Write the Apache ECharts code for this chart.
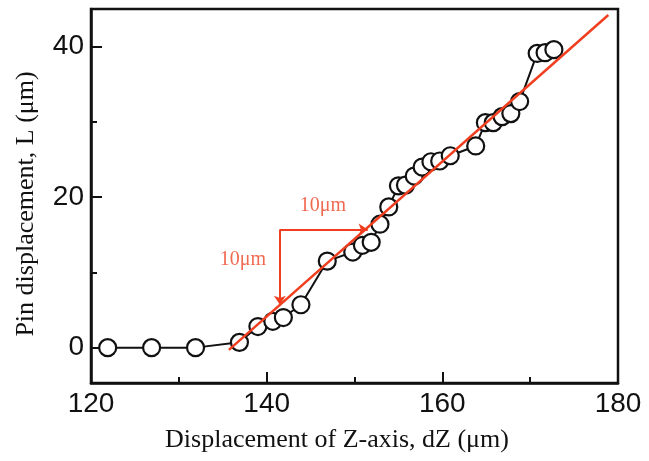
<!DOCTYPE html>
<html>
<head>
<meta charset="utf-8">
<script src="https://cdn.jsdelivr.net/npm/echarts@6/dist/echarts.min.js"></script>
<style>
  html, body { margin: 0; padding: 0; background: #fff; }
  #chart { width: 649px; height: 461px; }
</style>
</head>
<body>
<div id="chart"></div>
<script>
// Measured points: Z-axis displacement (µm) vs pin displacement (µm)
const dz  = [121.9, 126.9, 131.9, 136.9, 139.0, 140.7, 141.9, 143.9, 146.9, 149.8,
             150.9, 151.9, 152.9, 153.9, 155.0, 155.8, 156.8, 157.7, 158.7, 159.7,
             160.9, 163.8, 164.9, 165.8, 166.8, 167.8, 168.8, 170.8, 171.7, 172.7];
const pin = [0, 0, 0, 0.7, 2.8, 3.5, 4.0, 5.7, 11.5, 12.7,
             13.6, 14.0, 16.4, 18.7, 21.5, 21.6, 22.8, 24.0, 24.7, 24.8,
             25.5, 26.8, 29.9, 29.9, 30.7, 31.1, 32.7, 39.1, 39.2, 39.6];

// Linear fit (slope ≈ 1)
const fitX = [135.7, 178.9];
const fitY = [-0.3, 44.2];

// Slope triangle: 10 µm right, 10 µm down from the corner
const cornerX = 141.5, cornerY = 15.7;
const stepX = 10, stepY = 10;

// Annotation texts
const annoX = [146.4, 137.3];
const annoY = [18.8, 11.7];
const annoText = ['10μm', '10μm'];

// Axis ticks
const xMajor = [120, 140, 160, 180];
const yMajor = [0, 20, 40];
const yMinor = [10, 30];

const RED = '#f03e1f';
const RED_TEXT = '#ec4426';

const chart = echarts.init(document.getElementById('chart'), null, { renderer: 'canvas' });

const points = dz.map((x, i) => [x, pin[i]]);
const fit = fitX.map((x, i) => [x, fitY[i]]);
const anno = annoX.map((x, i) => ({ value: [x, annoY[i]], name: annoText[i] }));

const tickLabel = { fontFamily: 'Liberation Sans, Arial, sans-serif', fontSize: 28, color: '#111' };
const titleFont = { fontFamily: 'Liberation Serif, Times New Roman, serif', fontSize: 26, color: '#111' };

chart.setOption({
  animation: false,
  backgroundColor: '#fff',
  grid: {
    left: 91, right: 31, top: 9, bottom: 78,
    show: true, borderColor: '#111', borderWidth: 2.5, backgroundColor: 'transparent'
  },
  xAxis: {
    type: 'value', min: 120, max: 180, interval: 20,
    name: 'Displacement of Z-axis, dZ (μm)',
    nameLocation: 'middle', nameGap: 44,
    nameTextStyle: Object.assign({ padding: [0, 35, 0, 0] }, titleFont),
    axisLine: { show: true, onZero: false, lineStyle: { color: '#111', width: 2.5 } },
    axisTick: { show: true, inside: true, length: 11, lineStyle: { color: '#111', width: 2 } },
    minorTick: { show: true, splitNumber: 2, length: 6, lineStyle: { color: '#111', width: 2 } },
    axisLabel: Object.assign({ margin: 7, customValues: xMajor }, tickLabel),
    splitLine: { show: false }, minorSplitLine: { show: false }
  },
  yAxis: [{
    type: 'value', min: -4.7, max: 45, position: 'left',
    name: 'Pin displacement, L (μm)',
    nameLocation: 'middle', nameGap: 52, nameRotate: 90,
    nameTextStyle: Object.assign({ padding: [0, 16, 0, 0] }, titleFont),
    axisLine: { show: true, onZero: false, lineStyle: { color: '#111', width: 2.5 } },
    axisTick: { show: true, inside: true, length: 11, customValues: yMajor, lineStyle: { color: '#111', width: 2 } },
    axisLabel: Object.assign({ margin: 7, customValues: yMajor }, tickLabel),
    splitLine: { show: false }
  }, {
    type: 'value', min: -4.7, max: 45, position: 'left', offset: 0,
    axisLine: { show: false, onZero: false },
    axisTick: { show: true, inside: true, length: 6, customValues: yMinor, lineStyle: { color: '#111', width: 2 } },
    axisLabel: { show: false },
    splitLine: { show: false }
  }],
  series: [{
    name: 'measured',
    type: 'line',
    data: points,
    z: 2,
    symbol: 'circle',
    symbolSize: 17,
    itemStyle: { color: '#fff', borderColor: '#111', borderWidth: 2.2 },
    lineStyle: { color: '#111', width: 2 }
  }, {
    name: 'fit',
    type: 'line',
    data: fit,
    z: 3,
    symbol: 'none',
    lineStyle: { color: RED, width: 2.5 }
  }, {
    name: 'annotation',
    type: 'scatter',
    data: anno,
    z: 4,
    symbolSize: 0,
    label: {
      show: true, position: 'inside', formatter: '{b}',
      fontFamily: 'Liberation Serif, Times New Roman, serif', fontSize: 20, color: RED_TEXT
    },
    markLine: {
      silent: true,
      symbol: ['none', 'arrow'],
      symbolSize: 9,
      label: { show: false },
      lineStyle: { color: RED, width: 2, type: 'solid' },
      data: [
        [{ coord: [cornerX, cornerY] }, { coord: [cornerX, cornerY - stepY] }],
        [{ coord: [cornerX, cornerY] }, { coord: [cornerX + stepX, cornerY] }]
      ]
    }
  }]
});
</script>
</body>
</html>
